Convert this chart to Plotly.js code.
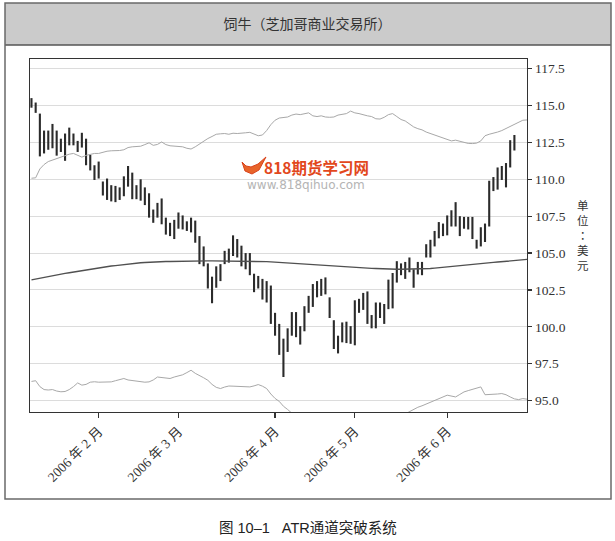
<!DOCTYPE html>
<html>
<head>
<meta charset="utf-8">
<script src="https://cdn.plot.ly/plotly-3.0.1.min.js"></script>
<style>html,body{margin:0;padding:0;background:#fff;}#chart{width:615px;height:541px;}</style>
</head>
<body>
<div id="chart"></div>
<script>
// trading days shown on the chart
const dates = [
 "2006-01-09","2006-01-10","2006-01-11","2006-01-12","2006-01-13","2006-01-17","2006-01-18","2006-01-19","2006-01-20",
 "2006-01-23","2006-01-24","2006-01-25","2006-01-26","2006-01-27","2006-01-30","2006-01-31",
 "2006-02-01","2006-02-02","2006-02-03","2006-02-06","2006-02-07","2006-02-08","2006-02-09","2006-02-10","2006-02-13",
 "2006-02-14","2006-02-15","2006-02-16","2006-02-17","2006-02-21","2006-02-22","2006-02-23","2006-02-24","2006-02-27","2006-02-28",
 "2006-03-01","2006-03-02","2006-03-03","2006-03-06","2006-03-07","2006-03-08","2006-03-09","2006-03-10","2006-03-13",
 "2006-03-14","2006-03-15","2006-03-16","2006-03-17","2006-03-20","2006-03-21","2006-03-22","2006-03-23","2006-03-24",
 "2006-03-27","2006-03-28","2006-03-29","2006-03-30","2006-03-31",
 "2006-04-03","2006-04-04","2006-04-05","2006-04-06","2006-04-07","2006-04-10","2006-04-11","2006-04-12","2006-04-13",
 "2006-04-17","2006-04-18","2006-04-19","2006-04-20","2006-04-21","2006-04-24","2006-04-25","2006-04-26","2006-04-27","2006-04-28",
 "2006-05-01","2006-05-02","2006-05-03","2006-05-04","2006-05-05","2006-05-08","2006-05-09","2006-05-10","2006-05-11","2006-05-12",
 "2006-05-15","2006-05-16","2006-05-17","2006-05-18","2006-05-19","2006-05-22","2006-05-23","2006-05-24","2006-05-25","2006-05-26",
 "2006-05-30","2006-05-31",
 "2006-06-01","2006-06-02","2006-06-05","2006-06-06","2006-06-07","2006-06-08","2006-06-09","2006-06-12","2006-06-13","2006-06-14",
 "2006-06-15","2006-06-16","2006-06-19","2006-06-20","2006-06-21","2006-06-22","2006-06-23","2006-06-26","2006-06-27","2006-06-28"
];

const tickDates = ["2006-02-01","2006-03-01","2006-04-03","2006-05-01","2006-06-01"];
const tickLabels = ["2006 年 2 月","2006 年 3 月","2006 年 4 月","2006 年 5 月","2006 年 6 月"];
const yTicks = [95.0, 97.5, 100.0, 102.5, 105.0, 107.5, 110.0, 112.5, 115.0, 117.5];

// daily high / low of the bars
const highs = [
 115.5,115.2,114.45,113.3,113.3,113.75,113.3,112.75,113.1,113.5,113.1,112.6,113.15,112.75,111.65,110.95,
 111.2,109.85,110.05,109.6,109.55,109.45,110.2,110.9,110.45,109.6,110.0,109.45,109.05,107.95,108.4,108.7,107.4,107.05,107.25,
 107.75,107.55,107.15,107.4,107.2,106.15,105.45,104.3,103.4,104.1,104.25,105.15,105.3,106.2,105.95,105.5,105.0,105.0,103.6,
 103.45,103.25,103.1,102.8,
 100.95,100.2,99.2,99.9,101.0,101.0,100.05,101.4,102.1,102.9,103.1,103.25,103.35,102.0,100.45,99.4,100.3,100.35,100.05,
 101.8,101.9,102.3,102.4,100.8,101.65,101.65,101.55,103.2,103.65,104.45,104.3,104.4,104.7,103.9,104.4,104.4,105.6,105.9,106.5,
 107.1,107.0,
 107.55,107.9,108.45,107.5,107.45,107.45,107.45,105.9,106.75,107.0,109.9,110.15,110.8,110.9,111.1,112.65,113.0
];
const lows = [
 114.85,114.5,111.55,111.75,112.0,112.1,111.6,111.85,111.25,112.3,112.3,111.85,112.15,110.95,110.6,109.95,
 110.05,108.9,108.6,108.5,108.45,108.6,108.85,109.5,108.65,108.65,108.55,108.25,107.4,107.05,107.4,106.95,106.25,106.15,105.95,
 106.65,106.6,106.5,106.4,105.7,104.25,104.1,102.6,101.6,102.65,103.1,104.25,104.35,104.8,104.7,104.1,103.9,103.5,102.35,
 102.6,101.85,101.65,100.2,
 99.4,98.1,96.6,98.3,99.4,99.3,98.8,99.7,100.95,101.35,102.0,102.1,102.2,100.6,98.5,98.2,98.95,98.9,98.85,
 98.75,100.95,101.15,100.2,99.9,99.9,100.6,100.2,101.2,101.25,103.0,103.5,103.25,103.7,102.65,103.55,103.5,104.7,104.7,105.45,
 106.0,106.15,
 106.2,106.8,106.8,106.15,106.65,106.6,105.95,105.3,105.45,105.75,106.8,109.2,109.3,109.95,109.45,110.8,111.95
];

// upper channel line (light grey)
const upperBand = [
 110.07,110.1,110.7,111.0,111.2,111.3,111.45,111.5,111.62,111.7,111.75,111.6,111.5,111.62,111.7,111.75,
 111.75,111.85,111.9,111.93,111.93,111.95,112.0,112.15,112.2,112.2,112.24,112.35,112.47,112.3,112.36,112.53,112.35,112.27,112.24,
 112.24,112.2,112.1,112.05,112.2,112.4,112.6,112.76,112.9,113.05,113.08,113.1,113.05,113.12,113.1,113.15,113.15,113.18,113.05,
 112.95,113.0,113.3,113.7,
 114.0,114.15,114.2,114.22,114.35,114.42,114.38,114.45,114.5,114.3,114.25,114.3,114.22,114.2,114.22,114.35,114.42,114.45,114.62,
 114.5,114.45,114.35,114.3,114.25,114.1,114.08,114.2,114.38,114.45,114.25,114.05,113.95,113.72,113.55,113.43,113.35,113.2,113.1,113.0,
 112.88,112.76,
 112.65,112.6,112.65,112.58,112.47,112.43,112.42,112.45,112.6,112.95,113.05,113.1,113.2,113.3,113.45,113.6,113.75,113.85,114.0,114.02
];
// lower channel line (light grey)
const lowerBand = [
 96.3,96.35,95.95,95.75,95.72,95.75,95.65,95.6,95.62,95.75,95.95,96.2,96.05,96.1,96.25,96.28,
 96.25,96.27,96.3,96.27,96.35,96.45,96.5,96.4,96.35,96.3,96.27,96.25,96.27,96.4,96.6,96.55,96.5,96.5,96.6,
 96.68,96.75,96.9,97.06,96.85,96.72,96.55,96.38,96.1,95.9,95.82,95.92,95.99,95.98,95.97,95.95,95.93,95.93,96.0,
 96.09,95.98,95.82,95.45,
 95.15,94.95,94.62,94.4,94.15,94.0,93.9,93.85,93.8,93.8,93.75,93.75,93.7,93.7,93.65,93.65,93.6,93.6,93.6,
 93.6,93.6,93.6,93.65,93.65,93.7,93.7,93.75,93.8,93.85,93.9,94.0,94.1,94.25,94.45,94.55,94.65,94.78,94.88,95.0,
 95.14,95.25,
 95.37,95.3,95.25,95.42,95.59,95.68,95.75,95.82,95.93,95.4,95.4,95.43,95.45,95.48,95.4,95.25,95.12,95.07,95.14,95.1
];
// middle moving average (dark)
const midLine = [
 103.18,103.24,103.29,103.35,103.4,103.46,103.51,103.57,103.62,103.67,103.72,103.77,103.82,103.87,103.92,103.96,
 104.0,104.04,104.08,104.12,104.15,104.19,104.23,104.27,104.3,104.32,104.34,104.36,104.38,104.39,104.4,104.42,104.43,104.43,104.44,
 104.44,104.45,104.45,104.45,104.46,104.46,104.47,104.47,104.47,104.47,104.47,104.47,104.47,104.47,104.47,104.47,104.47,104.47,104.46,
 104.45,104.44,104.42,104.4,
 104.38,104.36,104.33,104.31,104.3,104.28,104.26,104.24,104.22,104.21,104.19,104.18,104.16,104.15,104.13,104.11,104.09,104.07,104.05,
 104.03,104.01,104.0,103.98,103.96,103.95,103.93,103.92,103.91,103.9,103.9,103.9,103.9,103.9,103.9,103.9,103.91,103.93,103.95,103.98,
 104.01,104.05,
 104.08,104.12,104.15,104.18,104.21,104.24,104.26,104.28,104.3,104.33,104.35,104.37,104.39,104.42,104.44,104.47,104.49,104.52,104.55,104.57
];

const titleText = "饲牛（芝加哥商业交易所）";
const unitText = "单位：美元";
const captionText = "图 10–1   ATR通道突破系统";
const wmName = "818期货学习网";
const wmUrl = "www.818qihuo.com";

// plot-area geometry in pixels (for paper-coordinate decorations)
const W = 615, H = 541, PL = 30, PR = 527, PT = 59, PB = 412;
const PX = p => (p - PL) / (PR - PL);
const PY = p => (PB - p) / (PB - PT);

const barDates = dates.slice(0, highs.length);
const traces = [
  {
    type: "scatter", mode: "lines", x: dates, y: upperBand,
    line: {color: "#a8a8a8", width: 1}, hoverinfo: "skip", showlegend: false
  },
  {
    type: "scatter", mode: "lines", x: dates, y: lowerBand,
    line: {color: "#a8a8a8", width: 1}, hoverinfo: "skip", showlegend: false
  },
  {
    type: "scatter", mode: "lines", x: dates, y: midLine,
    line: {color: "#505050", width: 1.4}, hoverinfo: "skip", showlegend: false
  },
  {
    type: "bar", x: barDates, base: lows, y: highs.map((h, i) => h - lows[i]),
    width: 0.5, marker: {color: "#2b2b2b", line: {width: 0}}, hoverinfo: "skip", showlegend: false
  }
];

// vertical unit label as one stacked text block
const unitStacked = unitText.split("").map(ch =>
  ch === "：" ? '<span style="font-family:Noto Sans CJK TC">' + ch + "</span>" : ch
).join("<br>");

const annotations = [
  {
    xref: "paper", yref: "paper", x: PX(583), y: PY(235),
    text: unitStacked, showarrow: false, xanchor: "center", yanchor: "middle",
    font: {family: "Noto Sans CJK SC", size: 11.5, color: "#333"}
  },
  {
    xref: "paper", yref: "paper", x: PX(308), y: PY(528),
    text: captionText, showarrow: false, xanchor: "center", yanchor: "middle",
    font: {family: "Liberation Sans, Noto Sans CJK SC", size: 14.5, color: "#222"}
  },
  {
    xref: "paper", yref: "paper", x: PX(316), y: PY(167),
    text: "<b>" + wmName + "</b>", showarrow: false, xanchor: "center", yanchor: "middle",
    font: {family: "Noto Sans CJK SC", size: 15.5, color: "#e2481d"}
  },
  {
    xref: "paper", yref: "paper", x: PX(306), y: PY(185),
    text: wmUrl, showarrow: false, xanchor: "center", yanchor: "middle",
    font: {family: "DejaVu Sans", size: 12, color: "#b4b4b4"}
  }
];

const logoPts = [[242,162],[245,171],[252,174],[259,170],[266,157],[258,164],[251,167],[246,166]];
const logoPath = "M " + logoPts.map(p => PX(p[0]).toFixed(4) + "," + PY(p[1]).toFixed(4)).join(" L ") + " Z";

const shapes = [
  {type: "rect", xref: "paper", yref: "paper", x0: PX(5), x1: PX(611), y0: PY(45), y1: PY(3),
   fillcolor: "#cbcbcb", line: {width: 0}, layer: "below"},
  {type: "line", xref: "paper", yref: "paper", x0: PX(5), x1: PX(611), y0: PY(45), y1: PY(45),
   line: {color: "#555", width: 1.5}},
  {type: "rect", xref: "paper", yref: "paper", x0: PX(5), x1: PX(611), y0: PY(499), y1: PY(3),
   line: {color: "#6a6a6a", width: 1.5}, fillcolor: "rgba(0,0,0,0)"},
  {type: "path", xref: "paper", yref: "paper", path: logoPath,
   fillcolor: "#e8642a", line: {color: "#d9431c", width: 1}}
];

const layout = {
  width: W, height: H,
  margin: {l: PL, r: W - PR, t: PT, b: H - PB, pad: 0},
  paper_bgcolor: "#ffffff", plot_bgcolor: "#ffffff",
  title: {
    text: titleText, x: 0.5, xanchor: "center", y: 1 - 24 / H, yanchor: "middle",
    font: {family: "Noto Sans CJK SC", size: 14, color: "#333"}
  },
  showlegend: false,
  barmode: "overlay",
  xaxis: {
    type: "category", categoryorder: "array", categoryarray: dates,
    range: [-0.35, 118],
    tickmode: "array", tickvals: tickDates, ticktext: tickLabels, tickangle: -45,
    ticks: "outside", ticklen: 5, tickcolor: "#333", tickwidth: 1.2,
    showgrid: false, zeroline: false,
    showline: true, mirror: true, linecolor: "#333", linewidth: 1.3,
    tickfont: {family: "Liberation Serif, Noto Sans CJK SC", size: 13.5, color: "#333"}
  },
  yaxis: {
    side: "right", range: [94.23, 118.15],
    tickmode: "array", tickvals: yTicks, ticktext: yTicks.map(v => v.toFixed(1)),
    ticks: "outside", ticklen: 4, tickcolor: "#333", tickwidth: 1.2,
    showgrid: true, gridcolor: "#dcdcdc", gridwidth: 1, zeroline: false,
    showline: true, mirror: true, linecolor: "#333", linewidth: 1.3,
    tickfont: {family: "Liberation Serif", size: 13.5, color: "#333"}
  },
  shapes: shapes,
  annotations: annotations
};

Plotly.newPlot("chart", traces, layout, {displayModeBar: false, staticPlot: true});
</script>
</body>
</html>
